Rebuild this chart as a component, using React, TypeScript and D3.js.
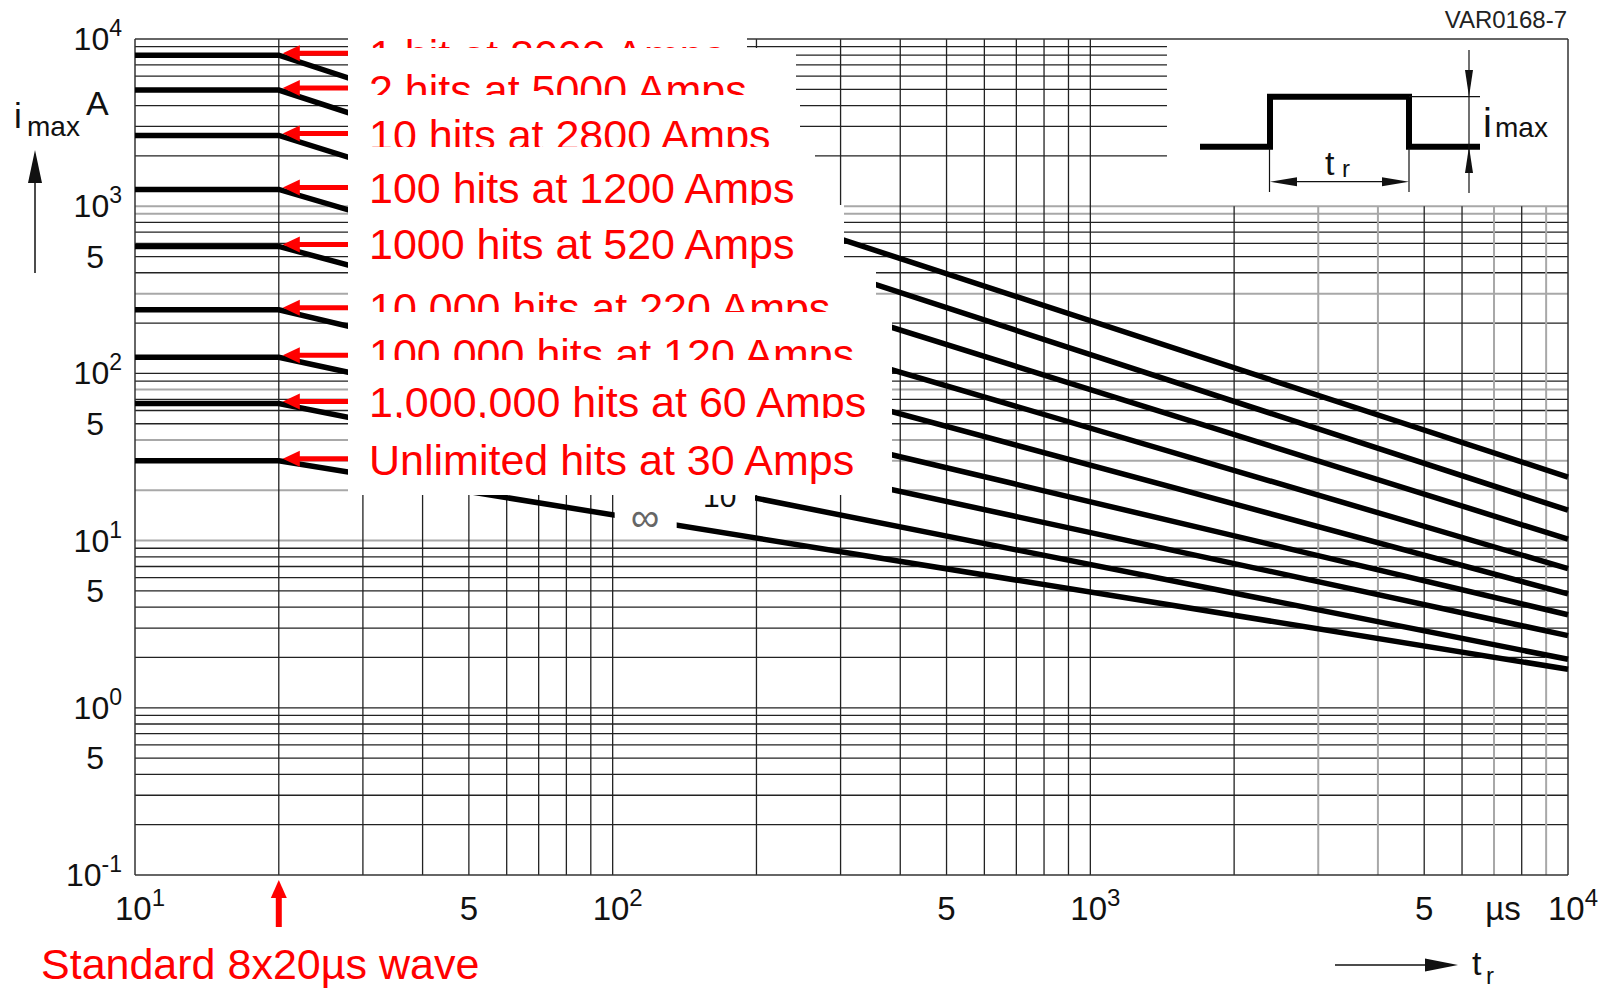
import * as d3 from 'd3';

// curve labels (pasted red notes)
const hitLabels = [
  '1 hit at 8000 Amps',
  '2 hits at 5000 Amps',
  '10 hits at 2800 Amps',
  '100 hits at 1200 Amps',
  '1000 hits at 520 Amps',
  '10,000 hits at 220 Amps',
  '100,000 hits at 120 Amps',
  '1,000,000 hits at 60 Amps',
  'Unlimited hits at 30 Amps',
];
// i_max in A, flat from 10 to 20 us
const imaxStart = [8000, 4950, 2650, 1260, 575, 240, 125, 66, 30];
// i_max in A at t_r = 10^4 us
const imaxEnd = [24, 15.2, 10.2, 6.8, 4.8, 3.6, 2.7, 1.95, 1.7];
const tPoints = [10, 20, 1e4];

const yTickValues = [1e4, 1e3, 500, 100, 50, 10, 5, 1, 0.5, 0.1];
const yTickBase = ['10', '10', '5', '10', '5', '10', '5', '10', '5', '10'];
const yTickExp = ['4', '3', '', '2', '', '1', '', '0', '', '-1'];

const xTickValues = [10, 50, 100, 500, 1000, 5000, 1e4];
const xTickBase = ['10', '5', '10', '5', '10', '5', '10'];
const xTickExp = ['1', '', '2', '', '3', '', '4'];

// grid lines that came out grey in the scan
const greyH = [1000, 900, 300, 80, 40, 30, 20, 10];
const greyV = [3000, 4000, 7000, 9000];

// white paste-over boxes for the red notes (pixels)
const boxes = [
  { x0: 348, y0: 30, x1: 747, y1: 48, base: 70 },
  { x0: 348, y0: 48, x1: 796, y1: 95, base: 105 },
  { x0: 348, y0: 95, x1: 800, y1: 147, base: 150 },
  { x0: 348, y0: 147, x1: 815, y1: 205, base: 203 },
  { x0: 348, y0: 205, x1: 844, y1: 268, base: 259 },
  { x0: 348, y0: 268, x1: 876, y1: 312, base: 323 },
  { x0: 348, y0: 312, x1: 892, y1: 360, base: 369 },
  { x0: 348, y0: 360, x1: 892, y1: 418, base: 417 },
  { x0: 348, y0: 418, x1: 892, y1: 495, base: 475 },
];

const FONT = '"Liberation Sans", Arial, Helvetica, sans-serif';
const RED = '#ff0000';

const isIn = (v: number, list: number[]) => list.some(g => Math.abs(v - g) / g < 1e-6);

export default function App() {
  const width = 1618;
  const height = 988;
  const x = d3.scaleLog().domain([10, 1e4]).range([135, 1568]);
  const y = d3.scaleLog().domain([0.1, 1e4]).range([875, 39]);
  const line = d3.line<[number, number]>().x(d => x(d[0])).y(d => y(d[1]));

  const insetFrom = 1447; // us, where the inset drawing starts in the top decade

  const hLines = y.ticks().filter(v => v > 0.1 * 1.0001 && v < 1e4 * 0.9999);
  const vLines = x.ticks().filter(v => v > 10 * 1.0001 && v < 1e4 * 0.9999);

  const series = imaxStart.map((s, i) => [
    [tPoints[0], s], [tPoints[1], s], [tPoints[2], imaxEnd[i]],
  ] as [number, number][]);

  const x0 = x(10), x1 = x(1e4), yTop = y(1e4), yBot = y(0.1);

  return (
    <svg width={width} height={height} style={{ position: 'absolute', left: 0, top: 0, background: '#fff' }}
      fontFamily={FONT}>
      <rect width={width} height={height} fill="#fff" />

      {/* grid */}
      {hLines.map((v, i) => {
        const grey = isIn(v, greyH);
        const end = v > 1000 * 1.0001 ? x(insetFrom) : x1;
        return <line key={'h' + i} x1={x0} x2={end} y1={y(v)} y2={y(v)}
          stroke={grey ? '#a8a8a8' : '#222'} strokeWidth={grey ? 2 : 1.3} />;
      })}
      {vLines.map((v, i) => {
        const grey = isIn(v, greyV);
        const top = v > 1000 * 1.0001 ? y(1000) : yTop;
        return <line key={'v' + i} x1={x(v)} x2={x(v)} y1={top} y2={yBot}
          stroke={grey ? '#a8a8a8' : '#222'} strokeWidth={grey ? 2 : 1.3} />;
      })}
      {/* frame */}
      <line x1={x0} x2={x1} y1={yTop} y2={yTop} stroke="#333" strokeWidth={1.5} />
      <line x1={x0} x2={x1} y1={yBot} y2={yBot} stroke="#333" strokeWidth={1.5} />
      <line x1={x0} x2={x0} y1={yTop} y2={yBot} stroke="#333" strokeWidth={1.5} />
      <line x1={x1} x2={x1} y1={yTop} y2={yBot} stroke="#333" strokeWidth={1.5} />

      {/* derating curves */}
      {series.map((d, i) => (
        <path key={'c' + i} d={line(d) || ''} fill="none" stroke="#000" strokeWidth={5.5} />
      ))}

      {/* curve labels left from the datasheet */}
      <rect x={x(100) + 2} y={504} width={62} height={28} fill="#fff" />
      <text x={645} y={531} fontSize={40} fill="#666" textAnchor="middle" fontFamily="DejaVu Sans, sans-serif"
        fontWeight={200}>∞</text>
      <rect x={697} y={484} width={58} height={26} fill="#fff" />
      <text x={703} y={507} fontSize={30} fill="#111">10<tspan dy={-13} fontSize={20}>6</tspan></text>

      {/* red arrows at 20 us */}
      {imaxStart.map((s, i) => {
        const ya = y(s) - 2;
        const tip = x(20) + 4;
        return (
          <g key={'a' + i}>
            <line x1={tip + 14} x2={boxes[i].x0} y1={ya} y2={ya} stroke={RED} strokeWidth={5} />
            <polygon points={`${tip},${ya} ${tip + 17},${ya - 8} ${tip + 17},${ya + 8}`} fill={RED} />
          </g>
        );
      })}

      {/* pasted notes */}
      <defs>
        {boxes.map((b, i) => (
          <clipPath key={'cp' + i} id={'note' + i}>
            <rect x={b.x0} y={b.y0} width={b.x1 - b.x0} height={b.y1 - b.y0} />
          </clipPath>
        ))}
      </defs>
      {boxes.map((b, i) => (
        <g key={'b' + i}>
          <rect x={b.x0} y={b.y0} width={b.x1 - b.x0} height={b.y1 - b.y0} fill="#fff" />
          <text x={369} y={b.base} fontSize={43} fill={RED} clipPath={`url(#note${i})`}>{hitLabels[i]}</text>
        </g>
      ))}

      {/* y ticks */}
      {yTickValues.map((v, i) => (
        <text key={'yt' + i} x={yTickExp[i] ? 122 : 104} y={y(v) + 11} fontSize={32} fill="#111" textAnchor="end">
          {yTickBase[i]}
          {yTickExp[i] && <tspan dy={-14} fontSize={23}>{yTickExp[i]}</tspan>}
        </text>
      ))}
      {/* x ticks */}
      {xTickValues.map((v, i) => (
        <text key={'xt' + i} x={x(v) + (xTickExp[i] ? 5 : 0)} y={920} fontSize={33} fill="#111" textAnchor="middle">
          {xTickBase[i]}
          {xTickExp[i] && <tspan dy={-14} fontSize={24}>{xTickExp[i]}</tspan>}
        </text>
      ))}
      <text x={x(7000) + 9} y={920} fontSize={33} fill="#111" textAnchor="middle">µs</text>

      {/* y axis title */}
      <text x={14} y={128} fontSize={35} fill="#111">i</text>
      <text x={27} y={136} fontSize={28} fill="#111">max</text>
      <text x={86} y={115} fontSize={34} fill="#111">A</text>
      <line x1={35} x2={35} y1={273} y2={178} stroke="#111" strokeWidth={1.5} />
      <polygon points="35,150 28,183 42,183" fill="#111" />

      {/* x axis title */}
      <line x1={1335} x2={1430} y1={965} y2={965} stroke="#111" strokeWidth={1.5} />
      <polygon points="1458,965 1425,958.5 1425,971.5" fill="#111" />
      <text x={1472} y={975} fontSize={34} fill="#111">t</text>
      <text x={1486} y={984} fontSize={24} fill="#111">r</text>

      {/* inset: pulse shape */}
      <text x={1567} y={28} fontSize={24} fill="#222" textAnchor="end">VAR0168-7</text>
      <path d="M1200,146.7 H1270 V96.7 H1409 V146.7 H1480" fill="none" stroke="#000" strokeWidth={6} />
      <line x1={1409} x2={1480} y1={96.7} y2={96.7} stroke="#111" strokeWidth={1.2} />
      <line x1={1469} x2={1469} y1={50} y2={193} stroke="#111" strokeWidth={1.2} />
      <polygon points="1469,96.7 1465,70 1473,70" fill="#111" />
      <polygon points="1469,146.7 1465,173 1473,173" fill="#111" />
      <text x={1483} y={137} fontSize={40} fill="#111">i</text>
      <text x={1495} y={137} fontSize={28} fill="#111">max</text>
      <line x1={1269.5} x2={1269.5} y1={148} y2={192} stroke="#111" strokeWidth={1.2} />
      <line x1={1409} x2={1409} y1={148} y2={192} stroke="#111" strokeWidth={1.2} />
      <line x1={1285} x2={1395} y1={181.7} y2={181.7} stroke="#111" strokeWidth={1.2} />
      <polygon points="1270,181.7 1297,177.2 1297,186.2" fill="#111" />
      <polygon points="1409,181.7 1382,177.2 1382,186.2" fill="#111" />
      <text x={1325} y={175} fontSize={34} fill="#111">t</text>
      <text x={1342} y={177} fontSize={24} fill="#111">r</text>

      {/* standard wave marker */}
      <line x1={x(20)} x2={x(20)} y1={895} y2={927} stroke={RED} strokeWidth={6} />
      <polygon points={`${x(20)},880 ${x(20) - 8},898 ${x(20) + 8},898`} fill={RED} />
      <text x={41} y={979} fontSize={43} fill={RED}>Standard 8x20µs wave</text>
    </svg>
  );
}
